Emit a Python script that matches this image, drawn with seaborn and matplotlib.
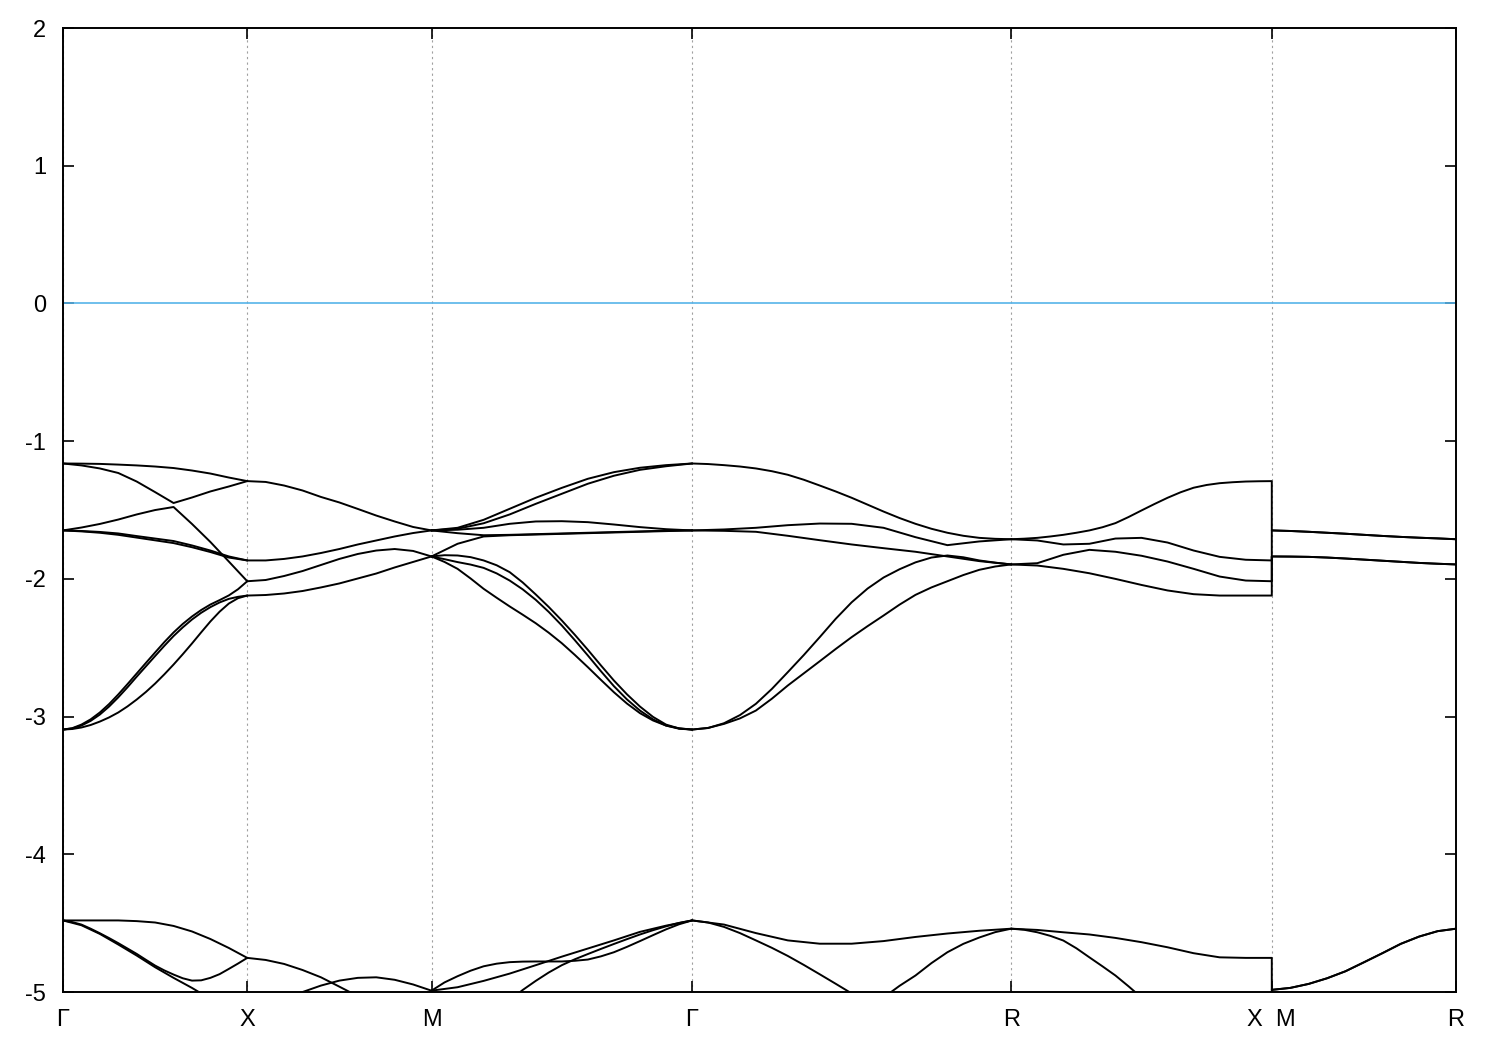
import numpy as np
import pandas as pd
import matplotlib
matplotlib.use("Agg")
import matplotlib.pyplot as plt
import seaborn as sns

# ---------------- data ----------------
KPOINT_LABELS = ["Γ", "X", "M", "Γ", "R", "X  M", "R"]
SEGMENT_LENGTHS = [0.5, 0.5, 0.7071, 0.8660, 0.7071, 0.5]   # in 2π/a
E_FERMI = 0.0
Y_TICKS = [-5, -4, -3, -2, -1, 0, 1, 2]

# Γ -> X  (energies in eV, samples evenly spaced along the segment)
GX_BANDS = [
    [-1.162, -1.163, -1.165, -1.170, -1.176, -1.184, -1.195, -1.213, -1.235, -1.264, -1.290],
    [-1.162, -1.176, -1.198, -1.231, -1.293, -1.370, -1.449, -1.409, -1.365, -1.329, -1.290],
    [-1.648, -1.627, -1.601, -1.569, -1.532, -1.500, -1.478, -1.601, -1.732, -1.874, -2.017],
    [-1.648, -1.652, -1.659, -1.670, -1.689, -1.707, -1.725, -1.757, -1.794, -1.837, -1.866],
    [-1.648, -1.655, -1.665, -1.680, -1.700, -1.720, -1.740, -1.770, -1.805, -1.845, -1.866],
    [-3.094, -3.084, -3.058, -3.020, -2.970, -2.909, -2.839, -2.764, -2.687, -2.610, -2.534,
     -2.459, -2.389, -2.327, -2.273, -2.226, -2.186, -2.154, -2.120, -2.075, -2.017],
    [-3.094, -3.086, -3.065, -3.031, -2.985, -2.927, -2.860, -2.787, -2.710, -2.635, -2.560,
     -2.486, -2.415, -2.352, -2.295, -2.246, -2.205, -2.171, -2.145, -2.130, -2.121],
    [-3.094, -3.090, -3.079, -3.061, -3.036, -3.006, -2.970, -2.926, -2.876, -2.821, -2.760,
     -2.693, -2.622, -2.547, -2.469, -2.388, -2.309, -2.238, -2.179, -2.140, -2.121],
    [-4.480, -4.480, -4.480, -4.480, -4.485, -4.495, -4.520, -4.560, -4.615, -4.680, -4.752],
    [-4.480, -4.492, -4.510, -4.540, -4.573, -4.608, -4.645, -4.684, -4.723, -4.766, -4.808,
     -4.843, -4.873, -4.900, -4.917, -4.915, -4.897, -4.870, -4.832, -4.793, -4.752],
    [-4.480, -4.515, -4.578, -4.655, -4.735, -4.820, -4.897, -4.970, -5.050, -5.120, -5.180],
]

# X -> M
XM_BANDS = [
    [-1.290, -1.296, -1.322, -1.358, -1.405, -1.445, -1.492, -1.540, -1.583, -1.623, -1.648],
    [-1.866, -1.866, -1.855, -1.837, -1.812, -1.783, -1.750, -1.721, -1.692, -1.667, -1.648],
    [-2.017, -2.008, -1.979, -1.943, -1.899, -1.855, -1.819, -1.794, -1.783, -1.797, -1.837],
    [-2.121, -2.117, -2.106, -2.088, -2.062, -2.033, -1.997, -1.961, -1.917, -1.877, -1.837],
    [-4.752, -4.767, -4.796, -4.840, -4.893, -4.961, -5.030, -5.100, -5.170, -5.220, -5.250],
    [-5.300, -5.150, -5.050, -5.000, -4.953, -4.917, -4.897, -4.893, -4.911, -4.945, -4.990],
]

# M -> Γ
MG_BANDS = [
    [-1.648, -1.629, -1.571, -1.491, -1.411, -1.339, -1.273, -1.225, -1.193, -1.174, -1.162],
    [-1.648, -1.636, -1.596, -1.532, -1.455, -1.382, -1.309, -1.251, -1.208, -1.182, -1.162],
    [-1.648, -1.643, -1.629, -1.600, -1.583, -1.581, -1.588, -1.605, -1.624, -1.639, -1.648],
    [-1.837, -1.745, -1.692, -1.683, -1.678, -1.673, -1.668, -1.663, -1.658, -1.653, -1.648],
    [-1.648, -1.668, -1.683, -1.680, -1.675, -1.670, -1.665, -1.660, -1.655, -1.650, -1.648],
    [-1.837, -1.828, -1.830, -1.842, -1.866, -1.901, -1.951, -2.026, -2.113, -2.204, -2.302,
     -2.406, -2.515, -2.628, -2.738, -2.838, -2.927, -3.002, -3.058, -3.086, -3.094],
    [-1.837, -1.857, -1.878, -1.896, -1.920, -1.960, -2.012, -2.076, -2.152, -2.240, -2.338,
     -2.445, -2.556, -2.670, -2.779, -2.875, -2.956, -3.020, -3.065, -3.088, -3.094],
    [-1.837, -1.877, -1.927, -1.997, -2.072, -2.137, -2.200, -2.260, -2.322, -2.391, -2.467,
     -2.552, -2.641, -2.733, -2.823, -2.905, -2.975, -3.028, -3.065, -3.085, -3.094],
    [-4.990, -4.930, -4.885, -4.845, -4.813, -4.794, -4.783, -4.779, -4.778, -4.778, -4.778,
     -4.773, -4.764, -4.741, -4.711, -4.672, -4.630, -4.587, -4.545, -4.508, -4.480],
    [-4.990, -4.965, -4.919, -4.866, -4.805, -4.743, -4.684, -4.625, -4.563, -4.518, -4.480],
    [-5.500, -5.420, -5.350, -5.260, -5.180, -5.115, -5.060, -4.985, -4.919, -4.858, -4.805,
     -4.762, -4.724, -4.687, -4.651, -4.616, -4.582, -4.551, -4.523, -4.498, -4.480],
]

# Γ -> R
GR_BANDS = [
    [-1.162, -1.166, -1.174, -1.184, -1.198, -1.218, -1.244, -1.280, -1.322, -1.365, -1.411,
     -1.461, -1.511, -1.558, -1.600, -1.636, -1.665, -1.687, -1.702, -1.709, -1.712],
    [-1.648, -1.641, -1.629, -1.610, -1.598, -1.600, -1.629, -1.697, -1.755, -1.728, -1.712],
    [-1.648, -1.651, -1.658, -1.687, -1.719, -1.750, -1.777, -1.803, -1.837, -1.871, -1.895],
    [-3.094, -3.083, -3.048, -2.989, -2.907, -2.799, -2.677, -2.553, -2.423, -2.290, -2.170,
     -2.070, -1.990, -1.930, -1.880, -1.845, -1.830, -1.843, -1.866, -1.882, -1.895],
    [-3.094, -3.082, -3.053, -3.013, -2.956, -2.870, -2.774, -2.686, -2.598, -2.509, -2.423,
     -2.343, -2.266, -2.187, -2.116, -2.062, -2.017, -1.972, -1.934, -1.910, -1.895],
    [-4.480, -4.510, -4.572, -4.625, -4.649, -4.649, -4.630, -4.600, -4.575, -4.555, -4.540],
    [-4.480, -4.495, -4.527, -4.572, -4.625, -4.679, -4.738, -4.803, -4.871, -4.940, -5.010,
     -5.060, -5.040, -4.955, -4.880, -4.790, -4.711, -4.650, -4.604, -4.565, -4.540],
]

# R -> X  (each joins the M -> R band of the same index at the X|M break)
RX_BANDS = [
    [-1.712, -1.708, -1.702, -1.692, -1.680, -1.665, -1.648, -1.625, -1.595, -1.551, -1.503,
     -1.456, -1.411, -1.371, -1.338, -1.318, -1.305, -1.298, -1.293, -1.291, -1.290],
    [-1.712, -1.721, -1.750, -1.745, -1.707, -1.702, -1.736, -1.794, -1.840, -1.861, -1.866],
    [-1.895, -1.886, -1.825, -1.789, -1.803, -1.832, -1.874, -1.927, -1.983, -2.012, -2.017],
    [-1.895, -1.903, -1.927, -1.959, -2.000, -2.044, -2.084, -2.111, -2.121, -2.121, -2.121],
    [-4.540, -4.549, -4.566, -4.582, -4.607, -4.638, -4.675, -4.718, -4.748, -4.752, -4.752],
    [-4.540, -4.548, -4.566, -4.592, -4.626, -4.682, -4.748, -4.813, -4.880, -4.958, -5.040,
     -5.120, -5.200, -5.280, -5.350, -5.400, -5.450, -5.480, -5.500, -5.500, -5.500],
]

# M -> R
MR_BANDS = [
    [-1.648, -1.652, -1.658, -1.665, -1.672, -1.680, -1.688, -1.695, -1.701, -1.706, -1.712],
    [-1.648, -1.652, -1.658, -1.665, -1.672, -1.680, -1.688, -1.695, -1.701, -1.706, -1.712],
    [-1.837, -1.838, -1.840, -1.845, -1.852, -1.860, -1.868, -1.876, -1.884, -1.890, -1.895],
    [-1.837, -1.838, -1.840, -1.845, -1.852, -1.860, -1.868, -1.876, -1.884, -1.890, -1.895],
    [-4.984, -4.970, -4.941, -4.900, -4.849, -4.784, -4.718, -4.650, -4.597, -4.558, -4.540],
    [-4.984, -4.970, -4.941, -4.900, -4.849, -4.784, -4.718, -4.650, -4.597, -4.558, -4.540],
]

# ---------------- build long-form table ----------------
kticks = np.concatenate([[0.0], np.cumsum(SEGMENT_LENGTHS)])

rows = []
for s, bands in enumerate([GX_BANDS, XM_BANDS, MG_BANDS, GR_BANDS]):
    for b, vals in enumerate(bands):
        ks = np.linspace(kticks[s], kticks[s + 1], len(vals))
        for k, e in zip(ks, vals):
            rows.append({"k": k, "E": e, "line": f"s{s}b{b}"})
for b, (v1, v2) in enumerate(zip(RX_BANDS, MR_BANDS)):
    ks1 = np.linspace(kticks[4], kticks[5], len(v1))
    ks2 = np.linspace(kticks[5], kticks[6], len(v2))
    for k, e in zip(np.concatenate([ks1, ks2]), list(v1) + list(v2)):
        rows.append({"k": k, "E": e, "line": f"rxmr{b}"})
df = pd.DataFrame(rows)

# ---------------- plot ----------------
sns.set_style("ticks")
plt.rcParams["font.family"] = ["Liberation Sans", "DejaVu Sans"]

fig = plt.figure(figsize=(15, 10.5), dpi=100)
ax = fig.add_axes([0.042, 0.0552, 0.9287, 0.9181])

ax.axhline(E_FERMI, color="#56b4e9", lw=1.2, zorder=2)

sns.lineplot(data=df, x="k", y="E", units="line", estimator=None, sort=False,
             color="black", lw=1.4, legend=False, ax=ax, zorder=3)

ax.set_xlim(kticks[0], kticks[-1])
ax.set_ylim(-5, 2)
ax.set_xticks(kticks)
ax.set_xticklabels(KPOINT_LABELS)
ax.set_yticks(Y_TICKS)
ax.set_yticklabels([str(v) for v in Y_TICKS])
ax.set_xlabel("")
ax.set_ylabel("")

ax.grid(axis="x", color="#a0a0a0", linestyle=(0, (2, 3)), lw=0.8)
ax.grid(axis="y", visible=False)

for sp in ax.spines.values():
    sp.set_visible(True)
    sp.set_color("black")
    sp.set_linewidth(1.4)

ax.tick_params(axis="both", direction="in", length=8, width=1.2,
               top=True, right=True, labelsize=17, colors="black")
ax.tick_params(axis="x", pad=12)
ax.tick_params(axis="y", pad=12)

fig.savefig("out.png", dpi=100)
